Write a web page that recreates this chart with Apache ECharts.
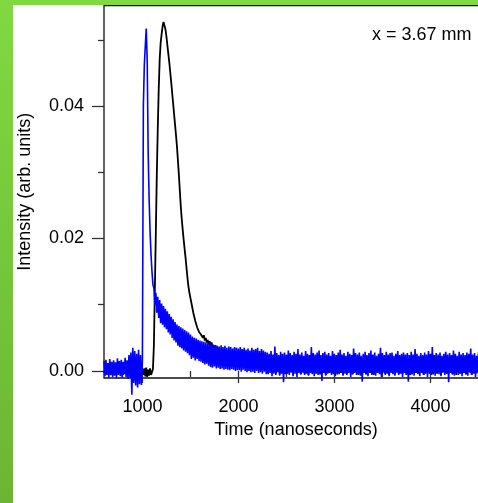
<!DOCTYPE html>
<html>
<head>
<meta charset="utf-8">
<script src="https://cdn.jsdelivr.net/npm/echarts@6/dist/echarts.min.js"></script>
<style>
  html, body { margin: 0; padding: 0; }
  body { width: 478px; height: 503px; overflow: hidden; position: relative;
         background: linear-gradient(to bottom, #80d941, #6cb534); }
  #chart { position: absolute; left: 13px; top: 5px; width: 500px; height: 498px; background: #fff; }
</style>
</head>
<body>
<div id="chart"></div>
<script>
// Time sampling of the traces (ns)
const timeStart = 600;
const timeStep = 10;
// Intensity values in units of 1e-4 (arb. units), one per time step, 600..4600 ns
const blueTrace = [
  15, -8, 17, -6, 12, -10, 18, -5, 14, -9,
  16, -7, 13, -11, 19, -6, 15, -8, 17, -10,
  14, -5, 20, -9, 16, -12, 24, -10, 28, -36,
  35, -18, 30, -22, 26, -25, 32, -20, 24, -21,
  15, 400, 462, 490, 517, 470, 330, 260, 210, 175,
  150, 130, 125, 100, 118, 88, 112, 80, 107, 72,
  102, 70, 98, 66, 94, 63, 90, 58, 86, 55,
  82, 50, 78, 46, 74, 43, 70, 38, 68, 36,
  66, 34, 64, 31, 62, 29, 60, 27, 58, 24,
  55, 18, 52, 20, 50, 16, 49, 18, 47, 15,
  46, 14, 45, 12, 44, 10, 43, 11, 42, 8,
  43, 6, 41, 5, 40, 7, 39, 4, 38, 5,
  37, 3, 39, 4, 36, 2, 38, 3, 35, 2,
  37, 1, 36, 3, 34, 2, 36, 0, 35, 1,
  34, 1, 36, -1, 33, 2, 35, 0, 32, -2,
  34, 0, 31, -2, 35, -1, 32, -3, 33, 0,
  35, -3, 30, -2, 33, -4, 31, -1, 29, -5,
  28, -5, 26, -3, 30, -8, 25, -4, 37, -6,
  27, -2, 24, -7, 29, -4, 26, -17, 28, -5,
  25, -3, 31, -6, 27, -2, 24, -8, 29, -4,
  26, -9, 33, -3, 25, -5, 28, -2, 23, -6,
  30, -4, 26, -7, 24, -3, 36, -5, 27, -8,
  25, -2, 28, -6, 31, -4, 24, -15, 27, -3,
  29, -7, 25, -4, 27, -2, 23, -6, 30, -5,
  26, -8, 24, -3, 28, -5, 32, -2, 25, -7,
  27, -4, 23, -6, 29, -3, 26, -9, 24, -5,
  34, -2, 27, -6, 25, -4, 28, -7, 23, -16,
  26, -3, 29, -5, 24, -8, 27, -2, 31, -6,
  25, -4, 28, -7, 23, -3, 26, -5, 35, -9,
  27, -2, 24, -6, 29, -4, 25, -8, 27, -3,
  28, -5, 23, -7, 26, -2, 30, -6, 24, -4,
  26, -9, 28, -3, 25, -5, 27, -16, 24, -6,
  29, -4, 25, -7, 33, -2, 26, -5, 23, -8,
  27, -3, 24, -6, 28, -4, 25, -9, 30, -2,
  26, -6, 36, -4, 24, -7, 27, -3, 25, -5,
  28, -8, 23, -2, 26, -6, 29, -4, 25, -17,
  27, -3, 24, -5, 31, -7, 26, -2, 23, -6,
  29, -4, 25, -8, 27, -3, 24, -5, 28, -7,
  26, -2, 34, -6, 25, -4, 27, -9, 23, -3,
  28, -5, 26, -7, 24, -2, 29, -6, 25, -4,
  27
];
const blackTrace = [
  -3, 2, -5, 1, -4, 3, -2, -6, 0, -3,
  1, -5, 2, -3, -1, -6, 3, -2, -4, 0,
  -5, 2, -3, -1, -6, 1, -2, -4, 2, -5,
  0, -3, -6, 1, -4, -2, 2, -5, -1, -3,
  3, -6, 4, -8, 5, -9, 2, -7, 4, -6,
  -3, 3, 40, 125, 210, 295, 365, 425, 470, 495,
  508, 520, 527, 524, 516, 505, 492, 479, 466, 451,
  436, 420, 404, 388, 372, 356, 339, 318, 296, 272,
  248, 229, 213, 198, 184, 170, 155, 140, 127, 118,
  115, 103, 101, 88, 88, 76, 77, 66, 69, 59,
  62, 55, 58, 50, 54, 46, 50, 43, 47, 40,
  45, 38, 43, 37, 40, 33, 39, 31, 36, 29,
  34, 27, 33, 25, 31, 24, 30, 22, 29, 21,
  28, 20, 27, 18, 26, 17, 25, 16, 24, 15,
  23, 14, 22, 13, 21, 12, 21, 11, 20, 10,
  20, 9, 19, 8, 18, 7, 19, 6, 17, 6,
  17, 5, 16, 4, 16, 3, 15, 3, 14, 2,
  12, -2, 10, 0, 13, -3, 11, -1, 9, -4,
  11, -1, 12, -5, 9, 0, 13, -2, 10, -3,
  12, -4, 9, -1, 11, -2, 13, -6, 10, 0,
  9, -3, 12, -1, 10, -5, 11, -2, 13, -4,
  10, -2, 9, -6, 12, 0, 11, -3, 10, -1,
  13, -4, 10, -2, 9, -5, 12, -1, 11, -3,
  10, -6, 12, -2, 9, -3, 11, 0, 13, -4,
  11, -1, 10, -5, 12, -2, 9, -3, 11, -6,
  12, -2, 10, -4, 13, -1, 9, -3, 11, -5,
  10, -3, 12, -1, 11, -6, 9, -2, 10, -4,
  13, -2, 11, -5, 10, -1, 12, -3, 9, -4,
  11, -6, 10, -2, 12, -3, 9, -1, 13, -5,
  10, -2, 11, -4, 9, -3, 12, -6, 10, -1,
  12, -3, 10, -5, 11, -2, 13, -4, 9, -1,
  11, -4, 12, -2, 10, -6, 9, -3, 11, -1,
  10, -5, 13, -2, 11, -3, 9, -4, 12, -1,
  11, -2, 10, -6, 12, -3, 9, -1, 10, -4,
  13, -3, 11, -5, 10, -2, 12, -4, 9, -1,
  10, -6, 11, -2, 13, -3, 9, -4, 12, -1,
  11, -3, 10, -5, 12, -2, 9, -6, 11, -1,
  12, -4, 10, -2, 11, -3, 13, -5, 9, -1,
  10, -2, 12, -6, 11, -3, 9, -4, 10, -1,
  11, -5, 12, -2, 10, -3, 13, -4, 9, -2,
  10
];
const valueUnit = 1e-4;
const xMajorTicks = [1000, 2000, 3000, 4000];
const xMinorTicks = [1500, 2500, 3500, 4500];
const yMajorTicks = [0, 0.02, 0.04];
const yMinorTicks = [0.01, 0.03, 0.05];
const xTitle = 'Time (nanoseconds)';
const yTitle = 'Intensity (arb. units)';
const annotation = 'x = 3.67 mm';

const toPairs = arr => arr.map((v, i) => [timeStart + i * timeStep, v * valueUnit]);

const FONT = '"Liberation Sans", Arial, Helvetica, sans-serif';
const chart = echarts.init(document.getElementById('chart'), null, { renderer: 'canvas' });
const xMin = 600, xMax = 4600, yMin = -0.001057, yMax = 0.05517;
const tickColor = '#333';
chart.setOption({
  animation: false,
  backgroundColor: '#fff',
  title: {
    text: annotation, left: 359, top: 21, padding: 0,
    textStyle: { fontFamily: FONT, fontSize: 18, fontWeight: 'normal', color: '#000' }
  },
  grid: {
    left: 91, top: 0.5, width: 384, height: 372.5,
    containLabel: false, outerBoundsMode: 'none',
    show: true, borderColor: '#111', borderWidth: 1.3, backgroundColor: 'transparent'
  },
  xAxis: [
    {
      type: 'value', min: xMin, max: xMax, position: 'bottom',
      name: xTitle, nameLocation: 'middle', nameGap: 40,
      nameTextStyle: { fontFamily: FONT, fontSize: 18, color: '#000' },
      axisLine: { show: false }, splitLine: { show: false },
      axisTick: { show: true, inside: false, length: 12, customValues: xMajorTicks,
                  lineStyle: { color: tickColor, width: 1.3 } },
      axisLabel: { show: true, customValues: xMajorTicks, margin: 20,
                   formatter: v => String(Math.round(v)),
                   fontFamily: FONT, fontSize: 18, color: '#000' }
    },
    {
      type: 'value', min: xMin, max: xMax, position: 'bottom',
      axisLine: { show: false }, splitLine: { show: false },
      axisTick: { show: true, length: 6, customValues: xMinorTicks,
                  lineStyle: { color: tickColor, width: 1.3 } },
      axisLabel: { show: false }
    }
  ],
  yAxis: [
    {
      type: 'value', min: yMin, max: yMax, position: 'left',
      name: yTitle, nameLocation: 'middle', nameGap: 70, nameRotate: 90,
      nameTextStyle: { fontFamily: FONT, fontSize: 18, color: '#000' },
      axisLine: { show: false }, splitLine: { show: false },
      axisTick: { show: true, length: 12, customValues: yMajorTicks,
                  lineStyle: { color: tickColor, width: 1.3 } },
      axisLabel: { show: true, customValues: yMajorTicks, margin: 20,
                   formatter: v => v.toFixed(2),
                   fontFamily: FONT, fontSize: 18, color: '#000' }
    },
    {
      type: 'value', min: yMin, max: yMax, position: 'left',
      axisLine: { show: false }, splitLine: { show: false },
      axisTick: { show: true, length: 6, customValues: yMinorTicks,
                  lineStyle: { color: tickColor, width: 1.3 } },
      axisLabel: { show: false }
    }
  ],
  series: [
    {
      type: 'line', name: 'black', xAxisIndex: 0, yAxisIndex: 0,
      data: toPairs(blackTrace), showSymbol: false, symbol: 'none', clip: false,
      lineStyle: { color: '#000', width: 1.8 }, itemStyle: { color: '#000' }
    },
    {
      type: 'line', name: 'blue', xAxisIndex: 0, yAxisIndex: 0,
      data: toPairs(blueTrace), showSymbol: false, symbol: 'none', clip: false,
      lineStyle: { color: '#0000ff', width: 1.6 }, itemStyle: { color: '#0000ff' }
    }
  ]
});
</script>
</body>
</html>
